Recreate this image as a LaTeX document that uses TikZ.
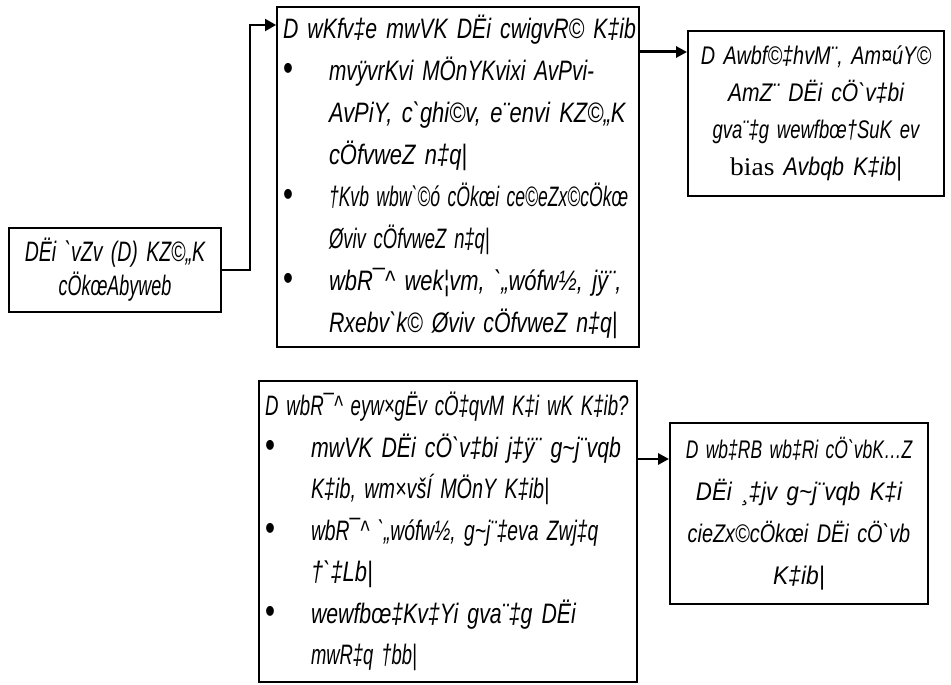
\documentclass[tikz,border=0pt]{standalone}
\usepackage{fontspec}
\setmainfont{Liberation Sans}[FakeStretch=0.78,Ligatures=TeXOff]
\newfontfamily\biasfont{Liberation Serif}
\usetikzlibrary{arrows.meta}

\newcommand{\bul}{\makebox[0.92cm][l]{\upshape\scalebox{1.3}{\textbullet}}}
\newcommand{\pl}[2][1]{\mbox{\scalebox{#1}[1]{#2}}}
\newcommand{\bl}[2][1]{\mbox{\bul\scalebox{#1}[1]{#2}}}
\newcommand{\il}[2][1]{\mbox{\hspace*{0.92cm}\scalebox{#1}[1]{#2}}}

\tikzset{
  box/.style={draw, line width=1.1pt, inner xsep=0.12cm, inner ysep=0pt},
  lbox/.style={box, align=left, text width=#1},
  cbox/.style={box, align=center, text width=#1},
  flow/.style={-{Triangle[length=0.22cm,width=0.22cm]}, line width=1.7pt},
  thinflow/.style={-{Triangle[length=0.22cm,width=0.24cm]}, line width=1.1pt},
}

\begin{document}
\begin{tikzpicture}[x=0.02cm, y=-0.02cm]
  \useasboundingbox (0,0) rectangle (951,685);

  % respondent box
  \node[cbox=4.0cm, minimum height=1.68cm, font=\fontsize{16}{19.4}\selectfont\itshape]
    (resp) at (115,270) {\pl[0.89]{DËi `vZv (D) KZ©„K}\\\pl[0.82]{cÖkœAbyweb}};

  % how the answer is measured
  \node[lbox=7.0cm, minimum height=6.8cm, font=\fontsize{16}{23.9}\selectfont\itshape]
    (measure) at (458,177) {%
    \pl[0.97]{D wKfv‡e mwVK DËi cwigvR© K‡ib}\\
    \bl[0.95]{mvÿvrKvi MÖnYKvixi AvPvi-}\\
    \il{AvPiY, c`ghi©v, e¨envi KZ©„K}\\
    \il{cÖfvweZ n‡q|}\\
    \bl[0.8]{†Kvb wbw`©ó cÖkœi ce©eZx©cÖkœ}\\
    \il[0.84]{Øviv cÖfvweZ n‡q|}\\
    \bl{wbR¯\textasciicircum\ wek¦vm, `„wófw½, jÿ¨,}\\
    \il[0.97]{Rxebv`k© Øviv cÖfvweZ n‡q|}};

  % bias box
  \node[cbox=4.88cm, minimum height=3.3cm, font=\fontsize{14.5}{21}\selectfont\itshape]
    (bias) at (816,113.5) {%
    \pl{D Awbf©‡hvM¨, Am¤úY©}\\
    \pl[1.06]{AmZ¨ DËi cÖ`v‡bi}\\
    \pl[0.93]{gva¨‡g wewfbœ†SuK ev}\\
    \pl[1.08]{{\upshape\biasfont bias} Avbqb K‡ib|}};

  % own judgement
  \node[lbox=7.32cm, minimum height=6.02cm, font=\fontsize{16}{23.6}\selectfont\itshape]
    (judge) at (448,531.5) {%
    \pl[0.85]{D wbR¯\textasciicircum\ eyw×gËv cÖ‡qvM K‡i wK K‡ib?}\\
    \bl[0.97]{mwVK DËi cÖ`v‡bi j‡ÿ¨ g\textasciitilde j¨vqb}\\
    \il[0.9]{K‡ib, wm×všÍ MÖnY K‡ib|}\\
    \bl[0.88]{wbR¯\textasciicircum\ `„wófw½, g\textasciitilde j¨‡eva Zwj‡q}\\
    \il{†`‡Lb|}\\
    \bl[0.97]{wewfbœ‡Kv‡Yi gva¨‡g DËi}\\
    \il[0.84]{mwR‡q †bb|}};

  % self check
  \node[cbox=4.92cm, minimum height=3.62cm, font=\fontsize{14.5}{23.9}\selectfont\itshape]
    (self) at (799,513.5) {%
    \pl[0.88]{D wb‡RB wb‡Ri cÖ`vbK…Z}\\
    \pl[1.12]{DËi ¸‡jv g\textasciitilde j¨vqb K‡i}\\
    \pl{cieZx©cÖkœi DËi cÖ`vb}\\
    \pl[1.15]{K‡ib|}};

  \coordinate (elbow) at (250,25);
  \coordinate (ab) at (0,52);
  \coordinate (cd) at (0,459);

  \draw[thinflow] (resp.east) -| (elbow) -- (elbow -| measure.west);
  \draw[flow] (measure.east |- ab) -- (bias.west |- ab);
  \draw[flow] (judge.east |- cd) -- (self.west |- cd);
\end{tikzpicture}
\end{document}
